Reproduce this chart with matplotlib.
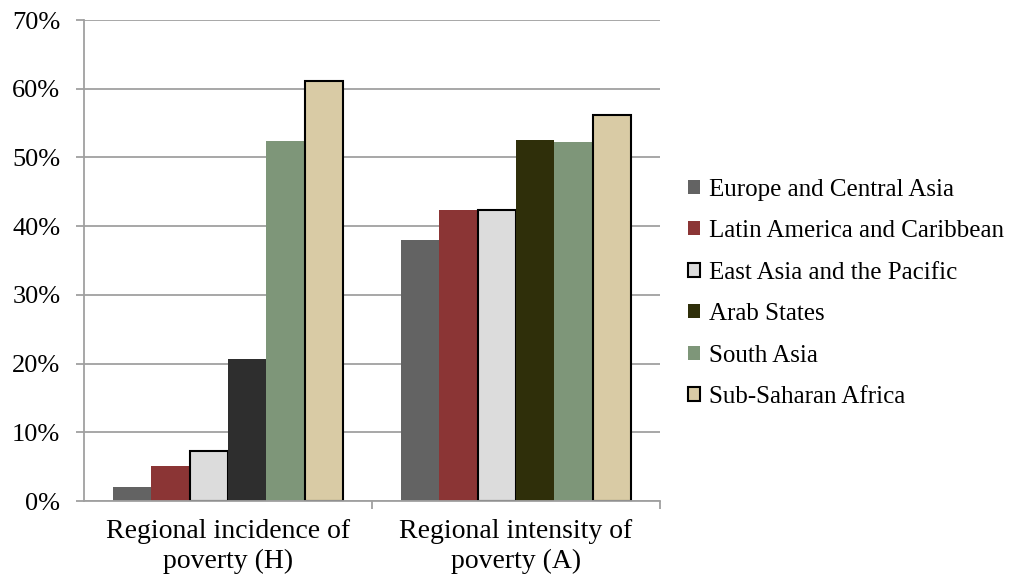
import numpy as np
import matplotlib
matplotlib.use('Agg')
from matplotlib import pyplot as plt
from matplotlib.ticker import PercentFormatter

categories = ['Regional incidence of\npoverty (H)', 'Regional intensity of\npoverty (A)']
regions = ['Europe and Central Asia', 'Latin America and Caribbean',
           'East Asia and the Pacific', 'Arab States', 'South Asia',
           'Sub-Saharan Africa']
incidence = [2.0, 5.1, 7.3, 20.6, 52.4, 61.1]
intensity = [38.0, 42.4, 42.3, 52.6, 52.3, 56.2]

colors = ['#636363', '#8b3535', '#dcdcdc', '#2f2f0a', '#7e9679', '#d9cba5']
edges = ['none', 'none', 'black', 'none', 'none', 'black']
# the Arab States bar in the first group is drawn dark grey in the original
first_group_colors = ['#636363', '#8b3535', '#dcdcdc', '#2e2e2e', '#7e9679', '#d9cba5']

plt.rcParams['font.family'] = ['Liberation Serif', 'DejaVu Serif']

fig = plt.figure(figsize=(10.16, 5.8), dpi=100)
ax = fig.add_axes([0.0827, 0.1362, 0.5669, 0.8293])

x = np.arange(len(categories))
w = 0.8 / len(regions)
for i, name in enumerate(regions):
    vals = [incidence[i], intensity[i]]
    pos = x - 0.4 + w * (i + 0.5)
    lw = 1.5 if edges[i] != 'none' else 0
    ax.bar(pos[0], vals[0], w, color=first_group_colors[i], edgecolor=edges[i], linewidth=lw)
    ax.bar(pos[1], vals[1], w, color=colors[i], edgecolor=edges[i], linewidth=lw, label=name)

ax.set_xlim(-0.5, 1.5)
ax.set_ylim(0, 70)
ax.set_yticks(range(0, 71, 10))
ax.yaxis.set_major_formatter(PercentFormatter(decimals=0))
ax.grid(axis='y', color='#a0a0a0', linewidth=1.3)
ax.set_axisbelow(True)
ax.set_xticks([0.5, 1.5], minor=False)
ax.set_xticklabels(['', ''])
ax.set_xticks(x, minor=True)
ax.set_xticklabels(categories, minor=True, fontsize=20, linespacing=1.25)
ax.tick_params(axis='x', which='minor', length=0, pad=13)
ax.tick_params(axis='x', which='major', length=6, color='#a0a0a0', width=1.3)
ax.tick_params(axis='y', length=6, color='#a0a0a0', width=1.3, labelsize=19, pad=11)
for s in ['top', 'right']:
    ax.spines[s].set_visible(False)
for s in ['left', 'bottom']:
    ax.spines[s].set_color('#a0a0a0')
    ax.spines[s].set_linewidth(1.3)

fig.legend(loc='center left', bbox_to_anchor=(0.677, 0.494), frameon=False,
           fontsize=18, handlelength=0.5, handleheight=0.5, handletextpad=0.35,
           labelspacing=0.78, borderpad=0, borderaxespad=0)

plt.savefig('out.png', dpi=100)
